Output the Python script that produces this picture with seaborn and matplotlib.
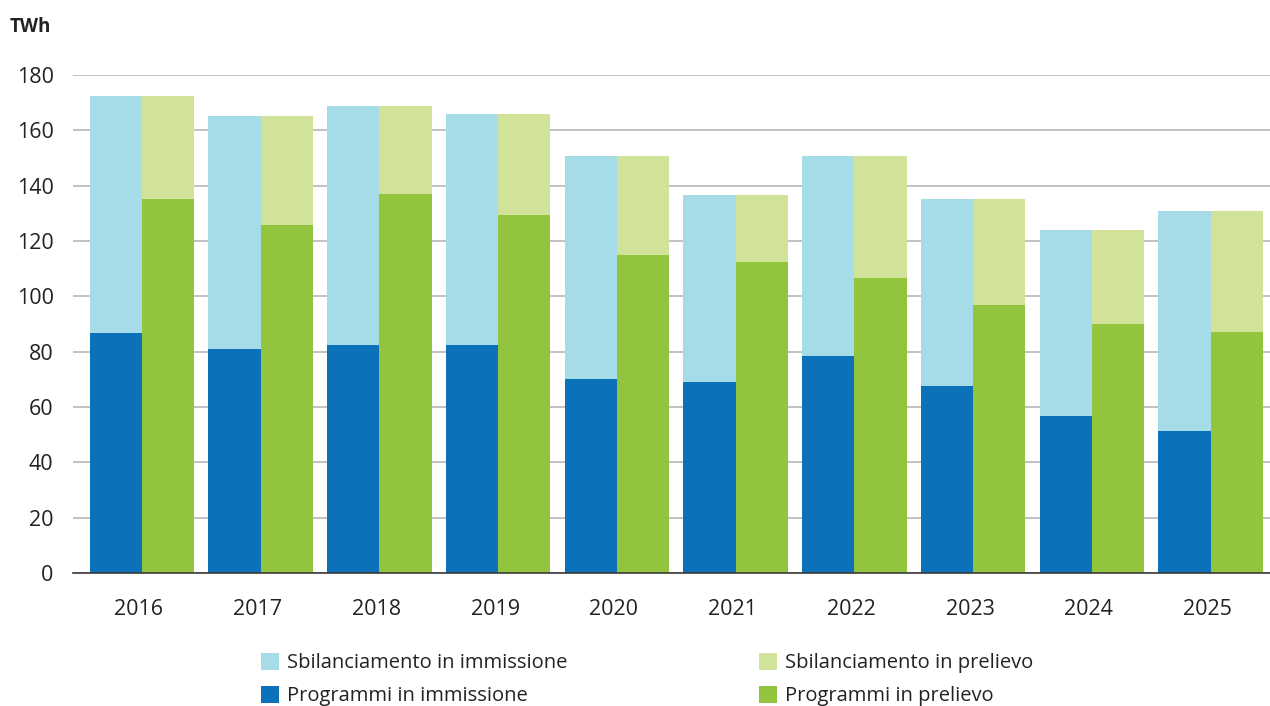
import matplotlib
matplotlib.use("Agg")
import matplotlib.pyplot as plt
import matplotlib.transforms as mtransforms
from matplotlib.patches import Patch
import pandas as pd
import seaborn as sns

# Annual energy volumes (TWh): scheduled programmes plus imbalance, injection vs withdrawal
years = ["2016", "2017", "2018", "2019", "2020", "2021", "2022", "2023", "2024", "2025"]
totale = [172.4, 165.2, 168.8, 165.9, 150.6, 136.8, 150.8, 135.3, 124.1, 130.7]
programmi_immissione = [86.7, 81.0, 82.5, 82.5, 70.0, 68.9, 78.5, 67.7, 56.8, 51.4]
programmi_prelievo = [135.1, 125.7, 136.9, 129.3, 114.8, 112.5, 106.5, 96.7, 90.1, 87.2]
y_ticks = [0, 20, 40, 60, 80, 100, 120, 140, 160, 180]

sides = ["immissione", "prelievo"]
light_colors = {"immissione": "#a6dce8", "prelievo": "#d1e39b"}
dark_colors = {"immissione": "#0b72b9", "prelievo": "#92c43e"}
legend_labels = [
    ("Sbilanciamento in immissione", "#a6dce8"),
    ("Programmi in immissione", "#0b72b9"),
    ("Sbilanciamento in prelievo", "#d1e39b"),
    ("Programmi in prelievo", "#92c43e"),
]

df = pd.DataFrame({
    "anno": years * 2,
    "lato": ["immissione"] * len(years) + ["prelievo"] * len(years),
    "totale": totale * 2,
    "programmi": programmi_immissione + programmi_prelievo,
})

sns.set_theme(style="white")
plt.rcParams["font.family"] = ["Open Sans", "DejaVu Sans"]

fig = plt.figure(figsize=(12.70, 7.06), dpi=100)
ax = fig.add_axes([73 / 1270, 1 - 573 / 706, 1197 / 1270, 498 / 706])

# Full stack height (imbalance on top), then the programme share drawn over it
sns.barplot(data=df, x="anno", y="totale", hue="lato", hue_order=sides,
            palette=light_colors, saturation=1, width=0.88, gap=0, dodge=True,
            errorbar=None, linewidth=0, legend=False, ax=ax, zorder=2)
sns.barplot(data=df, x="anno", y="programmi", hue="lato", hue_order=sides,
            palette=dark_colors, saturation=1, width=0.88, gap=0, dodge=True,
            errorbar=None, linewidth=0, legend=False, ax=ax, zorder=3)

ax.set_xlim(-0.58, 9.5)
ax.set_ylim(0, 180)
ax.set_yticks(y_ticks)
ax.yaxis.grid(True, color="#b8b8b8", linewidth=1.2)
ax.set_axisbelow(True)
ax.set_xlabel("")
ax.set_ylabel("")
for side in ["top", "right", "left"]:
    ax.spines[side].set_visible(False)
ax.spines["bottom"].set_color("#3a3a3a")
ax.spines["bottom"].set_linewidth(1.2)
ax.spines["bottom"].set_zorder(5)

ax.tick_params(axis="y", length=0, pad=14, labelsize=15.5, labelcolor="#222222")
ax.tick_params(axis="x", length=0, pad=19, labelsize=15.5, labelcolor="#222222")
shift = mtransforms.ScaledTranslation(-3 / 100, 0, fig.dpi_scale_trans)
for lbl in ax.get_xticklabels():
    lbl.set_transform(lbl.get_transform() + shift)

fig.text(10 / 1270, 1 - 27 / 706, "TWh", fontsize=13.5, fontweight="bold",
         color="#222222", ha="left", va="center")

# Two-column legend below the plot, placed as two independent columns
col_x = [261 / 1270, 759 / 1270]
for i, x0 in enumerate(col_x):
    items = legend_labels[2 * i: 2 * i + 2]
    handles = [Patch(facecolor=c, edgecolor="none", label=t) for t, c in items]
    leg = fig.legend(handles=handles, loc="upper left",
                     bbox_to_anchor=(x0, 1 - 653 / 706), frameon=False,
                     fontsize=14.5, handlelength=0.9, handleheight=0.9,
                     handletextpad=0.4, labelspacing=0.62, borderpad=0,
                     borderaxespad=0)
    for t in leg.get_texts():
        t.set_color("#222222")

fig.savefig("out.png", dpi=100)
